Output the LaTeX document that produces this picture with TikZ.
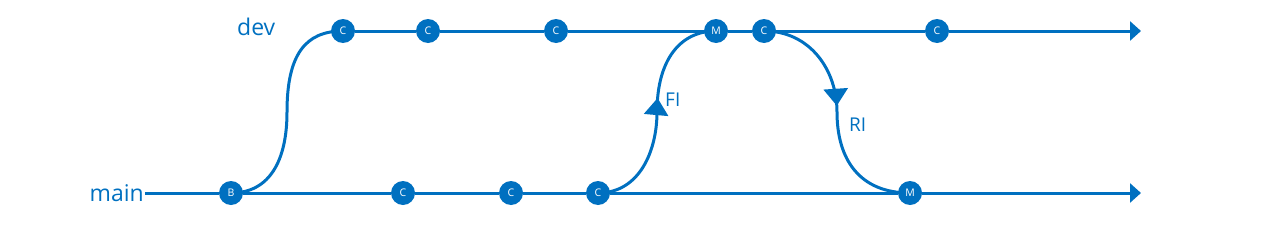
\documentclass[tikz,border=0pt]{standalone}
\usepackage{fontspec}
\setmainfont{Open Sans}
\usetikzlibrary{arrows.meta,decorations.markings,backgrounds}
\definecolor{gblue}{RGB}{0,112,192}
\tikzset{
  commit/.style={circle,fill=gblue,inner sep=0pt,minimum size=24pt,text=white,font=\fontsize{10.5}{10.5}\selectfont},
  branchline/.style={draw=gblue,line width=3pt},
  endarrow/.style={-{Triangle[length=11pt,width=19pt]}},
  lbl/.style={text=gblue,font=\fontsize{23}{23}\selectfont,inner sep=0pt},
  mlbl/.style={text=gblue,font=\fontsize{19}{19}\selectfont,inner sep=0pt},
  midarrow/.style={postaction={decorate},decoration={markings,mark=at position #1 with {\arrow{Triangle[length=17pt,width=24pt]}}}}
}
\begin{document}
\begin{tikzpicture}[x=1pt,y=-1pt]
\useasboundingbox (0,0) rectangle (1280,225);
% dev commits
\node[commit] (d1) at (343,31) {C};
\node[commit] (d2) at (428,31) {C};
\node[commit] (d3) at (556,31) {C};
\node[commit] (dm) at (716,31) {M};
\node[commit] (d4) at (764,31) {C};
\node[commit] (d5) at (937,31) {C};
% main commits
\node[commit] (b) at (231,193) {B};
\node[commit] (m1) at (403,193) {C};
\node[commit] (m2) at (511,193) {C};
\node[commit] (m3) at (598,193) {C};
\node[commit] (mm) at (910,193) {M};
% labels
\node[lbl,anchor=base west] (devl) at (237,35) {dev};
\node[lbl,anchor=base east] (mainl) at (144,201) {main};
\node[mlbl,anchor=base west] (fi) at (665,106) {FI};
\node[mlbl,anchor=base west] (ri) at (849,131) {RI};
\coordinate (mstart) at (145,193);
\coordinate (mend) at (1141,193);
\coordinate (dend) at (1141,31);
\coordinate (s1) at (287,112);
\coordinate (s2) at (657,112);
\coordinate (s3) at (837,112);
\begin{scope}[on background layer]
\draw[branchline] (mstart) -- (b) -- (m1) -- (m2) -- (m3) -- (mm);
\draw[branchline,endarrow] (mm) -- (mend);
\draw[branchline] (d1) -- (d2) -- (d3) -- (dm) -- (d4) -- (d5);
\draw[branchline,endarrow] (d5) -- (dend);
\draw[branchline] (b.center) .. controls (270,193) and (287,160) .. (s1) .. controls (287,55) and (305,31) .. (d1.center);
\draw[branchline,midarrow=0.56] (m3.center) .. controls (640,193) and (657,150) .. (s2) .. controls (657,60) and (680,31) .. (dm.center);
\draw[branchline,midarrow=0.47] (d4.center) .. controls (810,31) and (837,70) .. (s3) .. controls (837,160) and (860,193) .. (mm.center);
\end{scope}
\end{tikzpicture}
\end{document}
